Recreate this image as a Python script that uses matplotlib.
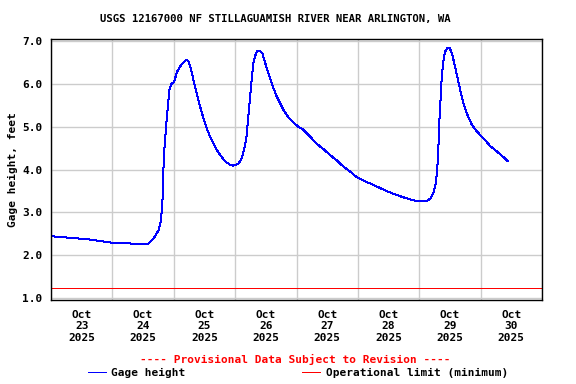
import pandas as pd
import matplotlib
matplotlib.use("Agg")
import matplotlib.pyplot as plt
import matplotlib.dates as mdates

# gage height readings, hours after 2025-10-23 00:00
hours = [0, 14.5, 24.9, 37.9, 40.0, 42.0, 43.0, 43.4, 43.8, 43.9, 44.3, 45.0,
         45.7, 46.3, 47.2, 48.2, 49.2, 51.1, 52.8, 53.7, 54.7, 55.7, 57.0,
         58.3, 59.6, 60.9, 62.2, 63.5, 64.8, 66.1, 68.1, 70.0, 71.3, 73.3,
         74.6, 75.5, 76.3, 76.8, 77.5, 78.1, 78.6, 79.1, 79.9, 80.7, 81.8,
         82.7, 83.4, 84.4, 85.7, 87.0, 88.3, 89.6, 90.9, 92.8, 94.8, 96.7,
         98.7, 101.3, 103.9, 106.5, 109.1, 111.8, 114.3, 117.0, 119.6, 122.2,
         126.1, 130.0, 133.9, 137.8, 141.7, 144.4, 147.0, 148.5, 149.6, 150.5,
         151.1, 151.5, 151.9, 152.4, 152.8, 153.5, 154.1, 155.0, 155.8, 156.8,
         157.7, 158.7, 160.0, 161.3, 162.6, 164.6, 166.5, 169.1, 171.7, 174.4,
         176.9, 178.5]
gage_ft = [2.44, 2.37, 2.28, 2.26, 2.38, 2.57, 2.80, 3.14, 3.45, 3.92, 4.46, 5.00,
           5.47, 5.86, 6.01, 6.05, 6.28, 6.46, 6.56, 6.54, 6.36, 6.09, 5.78,
           5.47, 5.20, 4.96, 4.77, 4.62, 4.46, 4.34, 4.19, 4.11, 4.09, 4.13,
           4.27, 4.46, 4.69, 5.00, 5.47, 5.86, 6.17, 6.48, 6.67, 6.77, 6.77,
           6.71, 6.56, 6.36, 6.13, 5.90, 5.70, 5.55, 5.39, 5.22, 5.10, 5.00,
           4.93, 4.77, 4.60, 4.48, 4.34, 4.21, 4.07, 3.95, 3.82, 3.74,
           3.64, 3.53, 3.43, 3.35, 3.28, 3.26, 3.26, 3.33, 3.46, 3.68,
           4.07, 4.54, 5.16, 5.70, 6.17, 6.56, 6.75, 6.85, 6.85, 6.71,
           6.48, 6.21, 5.86, 5.55, 5.31, 5.04, 4.89, 4.73, 4.55, 4.42,
           4.29, 4.20]
op_limit = 1.24

start = pd.Timestamp("2025-10-23")
times = start + pd.to_timedelta(hours, unit="h")

mono = "DejaVu Sans Mono"
fig = plt.figure(figsize=(5.76, 3.84), dpi=100)
ax = fig.add_axes([51 / 576, 1 - 300 / 384, 491 / 576, 261 / 384])

ax.plot(times, gage_ft, color="#0000ff", lw=0.72, label="Gage height", antialiased=False)
ax.axhline(op_limit, color="#ff0000", lw=0.72, label="Operational limit (minimum)",
           antialiased=False)

ax.set_xlim(start, start + pd.Timedelta(days=8))
ax.set_ylim(0.95, 7.05)
ax.set_yticks([1, 2, 3, 4, 5, 6, 7])
ax.set_yticklabels([f"{v:.1f}" for v in range(1, 8)], family=mono, weight="bold", fontsize=8)

# gridlines at midnight, labels centred at noon
ax.xaxis.set_major_locator(mdates.DayLocator())
ax.xaxis.set_major_formatter(plt.NullFormatter())
ax.xaxis.set_minor_locator(mdates.HourLocator(byhour=[12]))
ax.xaxis.set_minor_formatter(mdates.DateFormatter("%b\n%d\n%Y"))
for lbl in ax.xaxis.get_minorticklabels():
    lbl.set_family(mono)
    lbl.set_weight("bold")
    lbl.set_fontsize(8)
ax.tick_params(axis="both", which="both", length=0, pad=6)
ax.tick_params(axis="x", which="minor", pad=7)

ax.grid(True, which="major", color="#cccccc", lw=1.0)
ax.set_axisbelow(True)
for s in ax.spines.values():
    s.set_linewidth(1.0)

ax.set_ylabel("Gage height, feet", family=mono, weight="bold", fontsize=8, labelpad=3)
fig.text(0.478, 1 - 19 / 384, "USGS 12167000 NF STILLAGUAMISH RIVER NEAR ARLINGTON, WA",
         ha="center", va="center", family=mono, weight="bold", fontsize=7.7)
fig.text(295 / 576, 1 - 359 / 384, "---- Provisional Data Subject to Revision ----",
         ha="center", va="center", family=mono, weight="bold", fontsize=8, color="#ff0000")

h, l = ax.get_legend_handles_labels()
fig.legend(h, l, loc="center", bbox_to_anchor=(298 / 576, 1 - 373 / 384), ncol=2,
           frameon=False, handlelength=1.6, handletextpad=0.5, columnspacing=10.5,
           prop={"family": mono, "weight": "bold", "size": 8})

fig.savefig("out.png", dpi=100)
